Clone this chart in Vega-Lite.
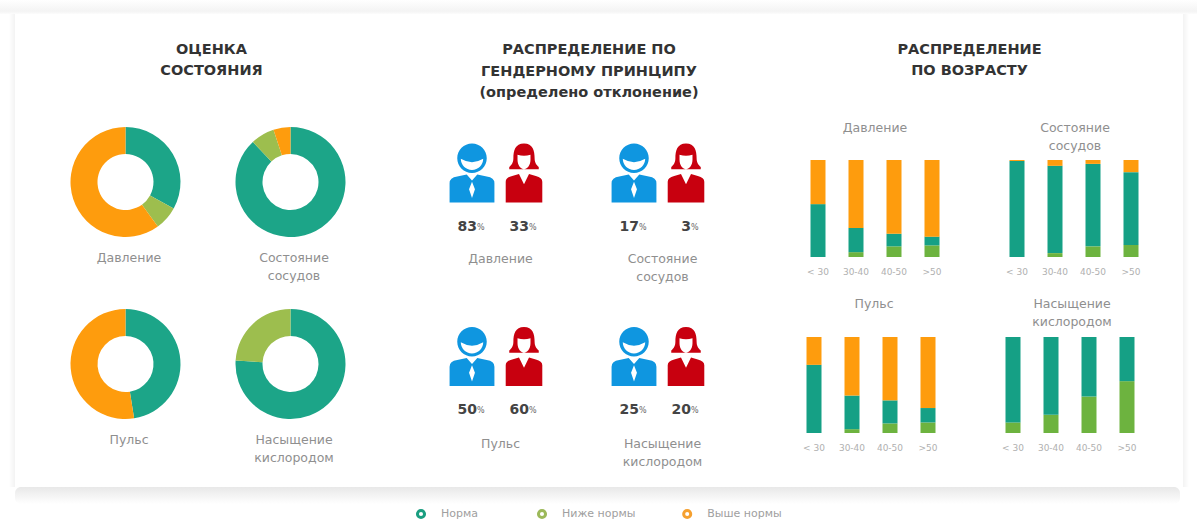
{"$schema":"https://vega.github.io/schema/vega-lite/v6.json","padding":0,"background":"#ffffff","autosize":{"type":"pad"},
"config":{"view":{"stroke":null},"font":"DejaVu Sans","title":{"font":"DejaVu Sans","fontSize":12.5,"fontWeight":"normal","color":"#8f8f8f","anchor":"middle","lineHeight":18}},
"datasets":{
"donuts":[
{"metric":"Давление","status":"Норма","rank":1,"value":33},{"metric":"Давление","status":"Ниже нормы","rank":2,"value":7},{"metric":"Давление","status":"Выше нормы","rank":3,"value":60},
{"metric":"Состояние сосудов","status":"Норма","rank":1,"value":88},{"metric":"Состояние сосудов","status":"Ниже нормы","rank":2,"value":7},{"metric":"Состояние сосудов","status":"Выше нормы","rank":3,"value":5},
{"metric":"Пульс","status":"Норма","rank":1,"value":47.5},{"metric":"Пульс","status":"Выше нормы","rank":3,"value":52.5},
{"metric":"Насыщение кислородом","status":"Норма","rank":1,"value":76},{"metric":"Насыщение кислородом","status":"Ниже нормы","rank":2,"value":24}],
"people":[
{"metric":"Давление","gender":"Мужчины","value":83},{"metric":"Давление","gender":"Женщины","value":33},
{"metric":"Состояние сосудов","gender":"Мужчины","value":17},{"metric":"Состояние сосудов","gender":"Женщины","value":3},
{"metric":"Пульс","gender":"Мужчины","value":50},{"metric":"Пульс","gender":"Женщины","value":60},
{"metric":"Насыщение кислородом","gender":"Мужчины","value":25},{"metric":"Насыщение кислородом","gender":"Женщины","value":20}],
"bars":[
{"metric":"Давление","age":"< 30","status":"Норма","rank":2,"value":54.5},{"metric":"Давление","age":"< 30","status":"Выше нормы","rank":3,"value":45.5},
{"metric":"Давление","age":"30-40","status":"Ниже нормы","rank":1,"value":5},{"metric":"Давление","age":"30-40","status":"Норма","rank":2,"value":25},{"metric":"Давление","age":"30-40","status":"Выше нормы","rank":3,"value":70},
{"metric":"Давление","age":"40-50","status":"Ниже нормы","rank":1,"value":11},{"metric":"Давление","age":"40-50","status":"Норма","rank":2,"value":13},{"metric":"Давление","age":"40-50","status":"Выше нормы","rank":3,"value":76},
{"metric":"Давление","age":">50","status":"Ниже нормы","rank":1,"value":12},{"metric":"Давление","age":">50","status":"Норма","rank":2,"value":9},{"metric":"Давление","age":">50","status":"Выше нормы","rank":3,"value":79},
{"metric":"Состояние сосудов","age":"< 30","status":"Норма","rank":2,"value":99},{"metric":"Состояние сосудов","age":"< 30","status":"Выше нормы","rank":3,"value":1},
{"metric":"Состояние сосудов","age":"30-40","status":"Ниже нормы","rank":1,"value":4},{"metric":"Состояние сосудов","age":"30-40","status":"Норма","rank":2,"value":90},{"metric":"Состояние сосудов","age":"30-40","status":"Выше нормы","rank":3,"value":6},
{"metric":"Состояние сосудов","age":"40-50","status":"Ниже нормы","rank":1,"value":11},{"metric":"Состояние сосудов","age":"40-50","status":"Норма","rank":2,"value":85},{"metric":"Состояние сосудов","age":"40-50","status":"Выше нормы","rank":3,"value":4},
{"metric":"Состояние сосудов","age":">50","status":"Ниже нормы","rank":1,"value":12.5},{"metric":"Состояние сосудов","age":">50","status":"Норма","rank":2,"value":75},{"metric":"Состояние сосудов","age":">50","status":"Выше нормы","rank":3,"value":12.5},
{"metric":"Пульс","age":"< 30","status":"Норма","rank":2,"value":71},{"metric":"Пульс","age":"< 30","status":"Выше нормы","rank":3,"value":29},
{"metric":"Пульс","age":"30-40","status":"Ниже нормы","rank":1,"value":4},{"metric":"Пульс","age":"30-40","status":"Норма","rank":2,"value":35},{"metric":"Пульс","age":"30-40","status":"Выше нормы","rank":3,"value":61},
{"metric":"Пульс","age":"40-50","status":"Ниже нормы","rank":1,"value":10},{"metric":"Пульс","age":"40-50","status":"Норма","rank":2,"value":24},{"metric":"Пульс","age":"40-50","status":"Выше нормы","rank":3,"value":66},
{"metric":"Пульс","age":">50","status":"Ниже нормы","rank":1,"value":11},{"metric":"Пульс","age":">50","status":"Норма","rank":2,"value":15},{"metric":"Пульс","age":">50","status":"Выше нормы","rank":3,"value":74},
{"metric":"Насыщение кислородом","age":"< 30","status":"Ниже нормы","rank":1,"value":11},{"metric":"Насыщение кислородом","age":"< 30","status":"Норма","rank":2,"value":89},
{"metric":"Насыщение кислородом","age":"30-40","status":"Ниже нормы","rank":1,"value":19},{"metric":"Насыщение кислородом","age":"30-40","status":"Норма","rank":2,"value":81},
{"metric":"Насыщение кислородом","age":"40-50","status":"Ниже нормы","rank":1,"value":38},{"metric":"Насыщение кислородом","age":"40-50","status":"Норма","rank":2,"value":62},
{"metric":"Насыщение кислородом","age":">50","status":"Ниже нормы","rank":1,"value":54},{"metric":"Насыщение кислородом","age":">50","status":"Норма","rank":2,"value":46}],
"blank":[{"n":1}],
"legend":[{"status":"Норма"},{"status":"Ниже нормы"},{"status":"Выше нормы"}]
},
"spacing":0,
"resolve":{"scale":{"color":"independent"}},
"vconcat":[
 {"width":1197,"height":14,"data":{"name":"blank"},"mark":{"type":"rect","color":{"gradient":"linear","x1":0,"y1":0,"x2":0,"y2":1,"stops":[{"offset":0,"color":"#ffffff"},{"offset":0.8,"color":"#f4f4f4"},{"offset":1,"color":"#fcfcfc"}]}},"encoding":{}},
 {"spacing":0,"resolve":{"scale":{"color":"independent"}},"hconcat":[
  {"width":15,"height":473,"data":{"name":"blank"},"mark":{"type":"rect","color":{"gradient":"linear","x1":0,"y1":0,"x2":1,"y2":0,"stops":[{"offset":0,"color":"#ffffff"},{"offset":0.6,"color":"#ffffff"},{"offset":1,"color":"#f3f3f3"}]}},"encoding":{}},
  {"width":27.5,"height":1,"data":{"name":"blank"},"mark":{"type":"rect","opacity":0},"encoding":{}},
  {"spacing":41,"resolve":{"scale":{"color":"independent"}},"vconcat":[
   {"width":330,"height":72,"data":{"values":[{"t":"ОЦЕНКА\nСОСТОЯНИЯ"}]},"mark":{"type":"text","lineBreak":"\n","lineHeight":21,"font":"DejaVu Sans","fontWeight":"bold","fontSize":14.5,"color":"#333333","dx":3.5},"encoding":{"text":{"field":"t"}}},
   {"columns":2,"spacing":{"row":26,"column":0},"resolve":{"scale":{"color":"independent"}},"concat":[
    {"width":165,"height":110,"title":{"text":["Давление"],"orient":"bottom","offset":15,"dx":3.5},"data":{"name":"donuts"},"transform":[{"filter":"datum.metric=='Давление'"}],"mark":{"type":"arc","innerRadius":28,"outerRadius":55},"encoding":{"theta":{"field":"value","type":"quantitative"},"order":{"field":"rank"},"color":{"field":"status","type":"nominal","legend":null,"scale":{"domain":["Норма","Ниже нормы","Выше нормы"],"range":["#1ca588","#9dbe4e","#fe9c0d"]}}}},
    {"width":165,"height":110,"title":{"text":["Состояние","сосудов"],"orient":"bottom","offset":15,"dx":3.5},"data":{"name":"donuts"},"transform":[{"filter":"datum.metric=='Состояние сосудов'"}],"mark":{"type":"arc","innerRadius":28,"outerRadius":55},"encoding":{"theta":{"field":"value","type":"quantitative"},"order":{"field":"rank"},"color":{"field":"status","type":"nominal","legend":null,"scale":{"domain":["Норма","Ниже нормы","Выше нормы"],"range":["#1ca588","#9dbe4e","#fe9c0d"]}}}},
    {"width":165,"height":110,"title":{"text":["Пульс"],"orient":"bottom","offset":15,"dx":3.5},"data":{"name":"donuts"},"transform":[{"filter":"datum.metric=='Пульс'"}],"mark":{"type":"arc","innerRadius":28,"outerRadius":55},"encoding":{"theta":{"field":"value","type":"quantitative"},"order":{"field":"rank"},"color":{"field":"status","type":"nominal","legend":null,"scale":{"domain":["Норма","Ниже нормы","Выше нормы"],"range":["#1ca588","#9dbe4e","#fe9c0d"]}}}},
    {"width":165,"height":110,"title":{"text":["Насыщение","кислородом"],"orient":"bottom","offset":15,"dx":3.5},"data":{"name":"donuts"},"transform":[{"filter":"datum.metric=='Насыщение кислородом'"}],"mark":{"type":"arc","innerRadius":28,"outerRadius":55},"encoding":{"theta":{"field":"value","type":"quantitative"},"order":{"field":"rank"},"color":{"field":"status","type":"nominal","legend":null,"scale":{"domain":["Норма","Ниже нормы","Выше нормы"],"range":["#1ca588","#9dbe4e","#fe9c0d"]}}}}
   ]}
  ]},
  {"width":72.5,"height":1,"data":{"name":"blank"},"mark":{"type":"rect","opacity":0},"encoding":{}},
  {"spacing":43.5,"resolve":{"scale":{"color":"independent"}},"vconcat":[
   {"width":266,"height":72,"data":{"values":[{"t":"РАСПРЕДЕЛЕНИЕ ПО\nГЕНДЕРНОМУ ПРИНЦИПУ\n(определено отклонение)"}]},"mark":{"type":"text","lineBreak":"\n","lineHeight":21.5,"font":"DejaVu Sans","fontWeight":"bold","fontSize":14.5,"color":"#333333","dx":10},"encoding":{"text":{"field":"t"}}},
   {"columns":2,"spacing":{"row":43.5,"column":58},"resolve":{"scale":{"color":"independent"}},"concat":[
    {"width":104,"height":90,"title":{"text":["Давление"],"orient":"bottom","offset":19,"dx":2.5},"data":{"name":"people"},"transform":[{"filter":"datum.metric=='Давление'"}],"encoding":{"x":{"field":"gender","type":"nominal","axis":null,"scale":{"type":"point","padding":0,"domain":["Мужчины","Женщины"],"range":[26,78]}}},"layer":[
     {"mark":{"type":"point","filled":true,"opacity":1,"size":3481},"encoding":{"y":{"datum":"icon","type":"ordinal","axis":null,"scale":{"type":"point","padding":0,"domain":["icon","value"],"range":[29.5,83]}},"color":{"field":"gender","type":"nominal","legend":null,"scale":{"domain":["Мужчины","Женщины"],"range":["#0f96e0","#c8000f"]}},"shape":{"field":"gender","type":"nominal","legend":null,"scale":{"domain":["Мужчины","Женщины"],"range":["M-0.5,-0.5A0.5,0.5 0 1 1 0.5,-0.5A0.5,0.5 0 1 1 -0.5,-0.5ZM-0.38,-0.48A0.38,0.38 0 0 0 0.38,-0.48Q0,-0.25 -0.38,-0.48ZM-0.76,1L-0.76,0.35Q-0.76,0.15 -0.5,0.12L-0.18,0.05L0,0.25L0.18,0.05L0.5,0.12Q0.76,0.15 0.76,0.35L0.76,1ZM0,0.3L-0.1,0.55L0,0.85L0.1,0.55Z","M0,-1C0.3,-1 0.36,-0.75 0.36,-0.5C0.36,-0.35 0.42,-0.28 0.5,-0.2L0.5,-0.13L-0.5,-0.13L-0.5,-0.2C-0.42,-0.28 -0.36,-0.35 -0.36,-0.5C-0.36,-0.75 -0.3,-1 0,-1ZM-0.22,-0.62L-0.22,-0.45C-0.22,-0.25 -0.1,-0.13 0,-0.13C0.1,-0.13 0.22,-0.25 0.22,-0.45L0.22,-0.62Q0,-0.55 -0.22,-0.62ZM-0.62,1L-0.62,0.3Q-0.62,0.15 -0.4,0.1L-0.17,0.03L0,0.38L0.17,0.03L0.4,0.1Q0.62,0.15 0.62,0.3L0.62,1Z"]}}}},
     {"mark":{"type":"text","align":"right","dx":5,"font":"DejaVu Sans","fontWeight":"bold","fontSize":14,"color":"#444444"},"encoding":{"y":{"datum":"value","type":"ordinal","axis":null,"scale":{"type":"point","padding":0,"domain":["icon","value"],"range":[29.5,83]}},"text":{"field":"value","type":"quantitative"}}},
     {"mark":{"type":"text","align":"left","dx":5,"dy":1,"font":"DejaVu Sans","fontSize":8,"color":"#666666"},"encoding":{"y":{"datum":"value","type":"ordinal","axis":null,"scale":{"type":"point","padding":0,"domain":["icon","value"],"range":[29.5,83]}},"text":{"value":"%"}}}
    ]},
    {"width":104,"height":90,"title":{"text":["Состояние","сосудов"],"orient":"bottom","offset":19,"dx":2.5},"data":{"name":"people"},"transform":[{"filter":"datum.metric=='Состояние сосудов'"}],"encoding":{"x":{"field":"gender","type":"nominal","axis":null,"scale":{"type":"point","padding":0,"domain":["Мужчины","Женщины"],"range":[26,78]}}},"layer":[
     {"mark":{"type":"point","filled":true,"opacity":1,"size":3481},"encoding":{"y":{"datum":"icon","type":"ordinal","axis":null,"scale":{"type":"point","padding":0,"domain":["icon","value"],"range":[29.5,83]}},"color":{"field":"gender","type":"nominal","legend":null,"scale":{"domain":["Мужчины","Женщины"],"range":["#0f96e0","#c8000f"]}},"shape":{"field":"gender","type":"nominal","legend":null,"scale":{"domain":["Мужчины","Женщины"],"range":["M-0.5,-0.5A0.5,0.5 0 1 1 0.5,-0.5A0.5,0.5 0 1 1 -0.5,-0.5ZM-0.38,-0.48A0.38,0.38 0 0 0 0.38,-0.48Q0,-0.25 -0.38,-0.48ZM-0.76,1L-0.76,0.35Q-0.76,0.15 -0.5,0.12L-0.18,0.05L0,0.25L0.18,0.05L0.5,0.12Q0.76,0.15 0.76,0.35L0.76,1ZM0,0.3L-0.1,0.55L0,0.85L0.1,0.55Z","M0,-1C0.3,-1 0.36,-0.75 0.36,-0.5C0.36,-0.35 0.42,-0.28 0.5,-0.2L0.5,-0.13L-0.5,-0.13L-0.5,-0.2C-0.42,-0.28 -0.36,-0.35 -0.36,-0.5C-0.36,-0.75 -0.3,-1 0,-1ZM-0.22,-0.62L-0.22,-0.45C-0.22,-0.25 -0.1,-0.13 0,-0.13C0.1,-0.13 0.22,-0.25 0.22,-0.45L0.22,-0.62Q0,-0.55 -0.22,-0.62ZM-0.62,1L-0.62,0.3Q-0.62,0.15 -0.4,0.1L-0.17,0.03L0,0.38L0.17,0.03L0.4,0.1Q0.62,0.15 0.62,0.3L0.62,1Z"]}}}},
     {"mark":{"type":"text","align":"right","dx":5,"font":"DejaVu Sans","fontWeight":"bold","fontSize":14,"color":"#444444"},"encoding":{"y":{"datum":"value","type":"ordinal","axis":null,"scale":{"type":"point","padding":0,"domain":["icon","value"],"range":[29.5,83]}},"text":{"field":"value","type":"quantitative"}}},
     {"mark":{"type":"text","align":"left","dx":5,"dy":1,"font":"DejaVu Sans","fontSize":8,"color":"#666666"},"encoding":{"y":{"datum":"value","type":"ordinal","axis":null,"scale":{"type":"point","padding":0,"domain":["icon","value"],"range":[29.5,83]}},"text":{"value":"%"}}}
    ]},
    {"width":104,"height":90,"title":{"text":["Пульс"],"orient":"bottom","offset":21,"dx":2.5},"data":{"name":"people"},"transform":[{"filter":"datum.metric=='Пульс'"}],"encoding":{"x":{"field":"gender","type":"nominal","axis":null,"scale":{"type":"point","padding":0,"domain":["Мужчины","Женщины"],"range":[26,78]}}},"layer":[
     {"mark":{"type":"point","filled":true,"opacity":1,"size":3481},"encoding":{"y":{"datum":"icon","type":"ordinal","axis":null,"scale":{"type":"point","padding":0,"domain":["icon","value"],"range":[29.5,83]}},"color":{"field":"gender","type":"nominal","legend":null,"scale":{"domain":["Мужчины","Женщины"],"range":["#0f96e0","#c8000f"]}},"shape":{"field":"gender","type":"nominal","legend":null,"scale":{"domain":["Мужчины","Женщины"],"range":["M-0.5,-0.5A0.5,0.5 0 1 1 0.5,-0.5A0.5,0.5 0 1 1 -0.5,-0.5ZM-0.38,-0.48A0.38,0.38 0 0 0 0.38,-0.48Q0,-0.25 -0.38,-0.48ZM-0.76,1L-0.76,0.35Q-0.76,0.15 -0.5,0.12L-0.18,0.05L0,0.25L0.18,0.05L0.5,0.12Q0.76,0.15 0.76,0.35L0.76,1ZM0,0.3L-0.1,0.55L0,0.85L0.1,0.55Z","M0,-1C0.3,-1 0.36,-0.75 0.36,-0.5C0.36,-0.35 0.42,-0.28 0.5,-0.2L0.5,-0.13L-0.5,-0.13L-0.5,-0.2C-0.42,-0.28 -0.36,-0.35 -0.36,-0.5C-0.36,-0.75 -0.3,-1 0,-1ZM-0.22,-0.62L-0.22,-0.45C-0.22,-0.25 -0.1,-0.13 0,-0.13C0.1,-0.13 0.22,-0.25 0.22,-0.45L0.22,-0.62Q0,-0.55 -0.22,-0.62ZM-0.62,1L-0.62,0.3Q-0.62,0.15 -0.4,0.1L-0.17,0.03L0,0.38L0.17,0.03L0.4,0.1Q0.62,0.15 0.62,0.3L0.62,1Z"]}}}},
     {"mark":{"type":"text","align":"right","dx":5,"font":"DejaVu Sans","fontWeight":"bold","fontSize":14,"color":"#444444"},"encoding":{"y":{"datum":"value","type":"ordinal","axis":null,"scale":{"type":"point","padding":0,"domain":["icon","value"],"range":[29.5,83]}},"text":{"field":"value","type":"quantitative"}}},
     {"mark":{"type":"text","align":"left","dx":5,"dy":1,"font":"DejaVu Sans","fontSize":8,"color":"#666666"},"encoding":{"y":{"datum":"value","type":"ordinal","axis":null,"scale":{"type":"point","padding":0,"domain":["icon","value"],"range":[29.5,83]}},"text":{"value":"%"}}}
    ]},
    {"width":104,"height":90,"title":{"text":["Насыщение","кислородом"],"orient":"bottom","offset":21,"dx":2.5},"data":{"name":"people"},"transform":[{"filter":"datum.metric=='Насыщение кислородом'"}],"encoding":{"x":{"field":"gender","type":"nominal","axis":null,"scale":{"type":"point","padding":0,"domain":["Мужчины","Женщины"],"range":[26,78]}}},"layer":[
     {"mark":{"type":"point","filled":true,"opacity":1,"size":3481},"encoding":{"y":{"datum":"icon","type":"ordinal","axis":null,"scale":{"type":"point","padding":0,"domain":["icon","value"],"range":[29.5,83]}},"color":{"field":"gender","type":"nominal","legend":null,"scale":{"domain":["Мужчины","Женщины"],"range":["#0f96e0","#c8000f"]}},"shape":{"field":"gender","type":"nominal","legend":null,"scale":{"domain":["Мужчины","Женщины"],"range":["M-0.5,-0.5A0.5,0.5 0 1 1 0.5,-0.5A0.5,0.5 0 1 1 -0.5,-0.5ZM-0.38,-0.48A0.38,0.38 0 0 0 0.38,-0.48Q0,-0.25 -0.38,-0.48ZM-0.76,1L-0.76,0.35Q-0.76,0.15 -0.5,0.12L-0.18,0.05L0,0.25L0.18,0.05L0.5,0.12Q0.76,0.15 0.76,0.35L0.76,1ZM0,0.3L-0.1,0.55L0,0.85L0.1,0.55Z","M0,-1C0.3,-1 0.36,-0.75 0.36,-0.5C0.36,-0.35 0.42,-0.28 0.5,-0.2L0.5,-0.13L-0.5,-0.13L-0.5,-0.2C-0.42,-0.28 -0.36,-0.35 -0.36,-0.5C-0.36,-0.75 -0.3,-1 0,-1ZM-0.22,-0.62L-0.22,-0.45C-0.22,-0.25 -0.1,-0.13 0,-0.13C0.1,-0.13 0.22,-0.25 0.22,-0.45L0.22,-0.62Q0,-0.55 -0.22,-0.62ZM-0.62,1L-0.62,0.3Q-0.62,0.15 -0.4,0.1L-0.17,0.03L0,0.38L0.17,0.03L0.4,0.1Q0.62,0.15 0.62,0.3L0.62,1Z"]}}}},
     {"mark":{"type":"text","align":"right","dx":5,"font":"DejaVu Sans","fontWeight":"bold","fontSize":14,"color":"#444444"},"encoding":{"y":{"datum":"value","type":"ordinal","axis":null,"scale":{"type":"point","padding":0,"domain":["icon","value"],"range":[29.5,83]}},"text":{"field":"value","type":"quantitative"}}},
     {"mark":{"type":"text","align":"left","dx":5,"dy":1,"font":"DejaVu Sans","fontSize":8,"color":"#666666"},"encoding":{"y":{"datum":"value","type":"ordinal","axis":null,"scale":{"type":"point","padding":0,"domain":["icon","value"],"range":[29.5,83]}},"text":{"value":"%"}}}
    ]}
   ]}
  ]},
  {"width":83,"height":1,"data":{"name":"blank"},"mark":{"type":"rect","opacity":0},"encoding":{}},
  {"spacing":35,"resolve":{"scale":{"color":"independent"}},"vconcat":[
   {"width":355,"height":72,"data":{"values":[{"t":"РАСПРЕДЕЛЕНИЕ\nПО ВОЗРАСТУ"}]},"mark":{"type":"text","lineBreak":"\n","lineHeight":21,"font":"DejaVu Sans","fontWeight":"bold","fontSize":14.5,"color":"#333333","dx":-3},"encoding":{"text":{"field":"t"}}},
   {"spacing":21,"resolve":{"scale":{"color":"independent"}},"vconcat":[
    {"spacing":43,"resolve":{"scale":{"color":"independent"}},"hconcat":[
     {"width":156,"height":97,"title":{"text":["Давление"," "],"orient":"top","dx":2,"offset":8},"data":{"name":"bars"},"transform":[{"filter":"datum.metric=='Давление'"}],"mark":{"type":"bar","width":15},"encoding":{"x":{"field":"age","type":"nominal","title":null,"scale":{"domain":["< 30","30-40","40-50",">50"],"range":[4,156],"paddingInner":0,"paddingOuter":0},"axis":{"domain":false,"ticks":false,"labelAngle":0,"labelFontSize":9,"labelColor":"#b0b0b0","labelPadding":10}},"y":{"field":"value","type":"quantitative","axis":null,"scale":{"domain":[0,100]}},"order":{"field":"rank"},"color":{"field":"status","type":"nominal","legend":null,"scale":{"domain":["Норма","Ниже нормы","Выше нормы"],"range":["#15a085","#6db33f","#fe9c0d"]}}}},
     {"width":156,"height":97,"title":{"text":["Состояние","сосудов"],"orient":"top","dx":3,"offset":8},"data":{"name":"bars"},"transform":[{"filter":"datum.metric=='Состояние сосудов'"}],"mark":{"type":"bar","width":15},"encoding":{"x":{"field":"age","type":"nominal","title":null,"scale":{"domain":["< 30","30-40","40-50",">50"],"range":[4,156],"paddingInner":0,"paddingOuter":0},"axis":{"domain":false,"ticks":false,"labelAngle":0,"labelFontSize":9,"labelColor":"#b0b0b0","labelPadding":10}},"y":{"field":"value","type":"quantitative","axis":null,"scale":{"domain":[0,100]}},"order":{"field":"rank"},"color":{"field":"status","type":"nominal","legend":null,"scale":{"domain":["Норма","Ниже нормы","Выше нормы"],"range":["#15a085","#6db33f","#fe9c0d"]}}}}
    ]},
    {"spacing":47,"resolve":{"scale":{"color":"independent"}},"hconcat":[
     {"width":152,"height":96,"title":{"text":["Пульс"," "],"orient":"top","dx":3,"offset":9},"data":{"name":"bars"},"transform":[{"filter":"datum.metric=='Пульс'"}],"mark":{"type":"bar","width":15},"encoding":{"x":{"field":"age","type":"nominal","title":null,"scale":{"domain":["< 30","30-40","40-50",">50"],"paddingInner":0,"paddingOuter":0},"axis":{"domain":false,"ticks":false,"labelAngle":0,"labelFontSize":9,"labelColor":"#b0b0b0","labelPadding":10}},"y":{"field":"value","type":"quantitative","axis":null,"scale":{"domain":[0,100]}},"order":{"field":"rank"},"color":{"field":"status","type":"nominal","legend":null,"scale":{"domain":["Норма","Ниже нормы","Выше нормы"],"range":["#15a085","#6db33f","#fe9c0d"]}}}},
     {"width":152,"height":96,"title":{"text":["Насыщение","кислородом"],"orient":"top","dx":2,"offset":9},"data":{"name":"bars"},"transform":[{"filter":"datum.metric=='Насыщение кислородом'"}],"mark":{"type":"bar","width":15},"encoding":{"x":{"field":"age","type":"nominal","title":null,"scale":{"domain":["< 30","30-40","40-50",">50"],"paddingInner":0,"paddingOuter":0},"axis":{"domain":false,"ticks":false,"labelAngle":0,"labelFontSize":9,"labelColor":"#b0b0b0","labelPadding":10}},"y":{"field":"value","type":"quantitative","axis":null,"scale":{"domain":[0,100]}},"order":{"field":"rank"},"color":{"field":"status","type":"nominal","legend":null,"scale":{"domain":["Норма","Ниже нормы","Выше нормы"],"range":["#15a085","#6db33f","#fe9c0d"]}}}}
    ]}
   ]}
  ]},
  {"width":33,"height":1,"data":{"name":"blank"},"mark":{"type":"rect","opacity":0},"encoding":{}},
  {"width":15,"height":473,"data":{"name":"blank"},"mark":{"type":"rect","color":{"gradient":"linear","x1":0,"y1":0,"x2":1,"y2":0,"stops":[{"offset":0,"color":"#f3f3f3"},{"offset":0.4,"color":"#ffffff"},{"offset":1,"color":"#ffffff"}]}},"encoding":{}}
 ]},
 {"spacing":0,"hconcat":[
  {"width":15,"height":17,"data":{"name":"blank"},"mark":{"type":"rect","opacity":0},"encoding":{}},
  {"width":1165,"height":17,"data":{"name":"blank"},"mark":{"type":"rect","cornerRadius":6,"color":{"gradient":"linear","x1":0,"y1":0,"x2":0,"y2":1,"stops":[{"offset":0,"color":"#e8e8e8"},{"offset":1,"color":"#ffffff"}]}},"encoding":{}}
 ]},
 {"width":1197,"height":18,"data":{"name":"legend"},"encoding":{"x":{"field":"status","type":"nominal","axis":null,"scale":{"type":"point","padding":0,"domain":["Норма","a","b","c","d","Ниже нормы","e","f","g","h","i","Выше нормы"],"range":[421,687.2]}}},"layer":[
  {"mark":{"type":"point","filled":false,"fill":"#ffffff","fillOpacity":1,"opacity":1,"strokeWidth":3,"size":50},"encoding":{"color":{"field":"status","type":"nominal","legend":null,"scale":{"domain":["Норма","Ниже нормы","Выше нормы"],"range":["#1a9e80","#9cb95a","#f5a030"]}}}},
  {"mark":{"type":"text","align":"left","dx":20,"fontSize":11,"color":"#a0a0a0"},"encoding":{"text":{"field":"status"}}}
 ]}
]}
